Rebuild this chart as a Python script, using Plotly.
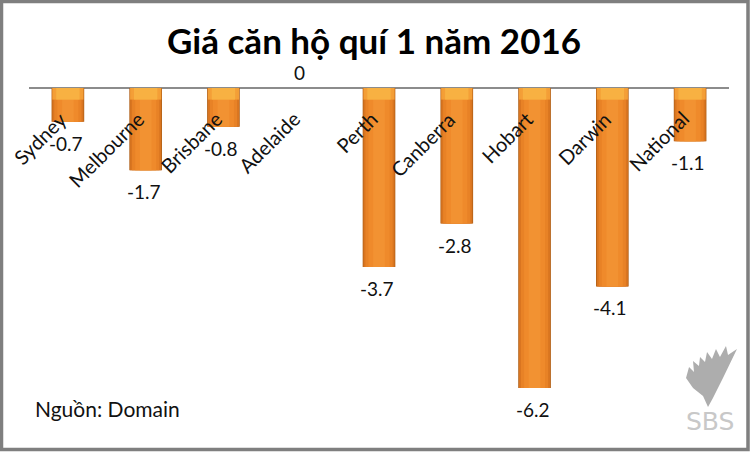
import plotly.graph_objects as go

# ---- data ----
categories = ["Sydney", "Melbourne", "Brisbane", "Adelaide", "Perth",
              "Canberra", "Hobart", "Darwin", "National"]
values = [-0.7, -1.7, -0.8, 0, -3.7, -2.8, -6.2, -4.1, -1.1]
title_text = "Giá căn hộ quí 1 năm 2016"
source_text = "Nguồn: Domain"

# ---- layout constants ----
W, H = 752, 452
ML, MR, MT, MB = 29, 23, 62, 32
PW, PH = W - ML - MR, H - MT - MB
Y_RANGE = [-6.86, 0.537]
FONT = "Lato, Carlito, Calibri, 'Open Sans', sans-serif"


def px_x(px):
    return (px - ML) / PW


def px_y(py):
    return (H - MB - py) / PH


fig = go.Figure()

# layered bars to imitate the cylinder gradient
layers = [
    (0.42, "#B06018"),
    (0.40, "#D97520"),
    (0.35, "#E88226"),
    (0.27, "#EF8A2B"),
    (0.15, "#F29232"),
]
for w, c in layers:
    fig.add_trace(go.Bar(
        x=categories, y=values, width=w, marker_color=c,
        marker_line_width=0, hoverinfo="skip", showlegend=False))

# lighter top cap
cap = [max(v, -0.24) if v < 0 else 0 for v in values]
for w, c in [(0.40, "rgba(244,160,56,0.95)"), (0.30, "rgba(248,178,66,0.95)")]:
    fig.add_trace(go.Bar(
        x=categories, y=cap, width=w, marker_color=c,
        marker_line_width=0, hoverinfo="skip", showlegend=False))

annotations = []
# value labels
for cat, v in zip(categories, values):
    if v < 0:
        annotations.append(dict(
            x=cat, y=v, xref="x", yref="y", text=f"{v:g}", showarrow=False,
            yanchor="top", yshift=-8, xshift=-2,
            font=dict(family=FONT, size=19, color="#111")))
    else:
        annotations.append(dict(
            x=cat, y=v, xref="x", yref="y", text=f"{v:g}", showarrow=False,
            yanchor="bottom", yshift=2, xshift=-2,
            font=dict(family=FONT, size=19, color="#111")))

# rotated category labels near the zero line
for cat in categories:
    annotations.append(dict(
        x=cat, y=0, xref="x", yref="y", text=cat, showarrow=False,
        textangle=-45, xanchor="right", yanchor="top", yshift=-16, xshift=6,
        font=dict(family=FONT, size=20, color="#111")))

# title
annotations.append(dict(
    x=px_x(374), y=px_y(40), xref="paper", yref="paper", text=f"<b>{title_text}</b>",
    showarrow=False, xanchor="center", yanchor="middle",
    font=dict(family=FONT, size=35, color="#000")))

# source
annotations.append(dict(
    x=px_x(33), y=px_y(408), xref="paper", yref="paper", text=source_text,
    showarrow=False, xanchor="left", yanchor="middle",
    font=dict(family=FONT, size=21, color="#111")))

# SBS logo text
annotations.append(dict(
    x=px_x(710), y=px_y(421), xref="paper", yref="paper", text="SBS",
    showarrow=False, xanchor="center", yanchor="middle",
    font=dict(family="'DejaVu Sans', sans-serif", size=25, color="#C8C8C8")))

# SBS logo glyph (rough)
pts = [(737, 349), (723, 378), (713, 398), (708, 407), (703, 396), (693, 388),
       (686, 378), (689, 367), (694, 372), (693, 361), (699, 366), (700, 357),
       (705, 362), (707, 352), (712, 359), (716, 349), (720, 357), (726, 346),
       (728, 355)]
path = "M " + " L ".join(f"{px_x(a):.4f},{px_y(b):.4f}" for a, b in pts) + " Z"

shapes = [
    dict(type="path", path=path, xref="paper", yref="paper",
         fillcolor="#ADADAD", line=dict(width=0)),
    # outer frame
    dict(type="rect", xref="paper", yref="paper",
         x0=px_x(1.5), x1=px_x(W - 4), y0=px_y(H - 2.5), y1=px_y(1.5),
         line=dict(color="#7F7F7F", width=3.5), fillcolor="rgba(0,0,0,0)"),
]

fig.update_layout(
    width=W, height=H,
    margin=dict(l=ML, r=MR, t=MT, b=MB),
    paper_bgcolor="white", plot_bgcolor="white",
    barmode="overlay",
    showlegend=False,
    xaxis=dict(showticklabels=False, showgrid=False, zeroline=False,
               showline=False, ticks="", range=[-0.5, len(categories) - 0.5]),
    yaxis=dict(range=Y_RANGE, showticklabels=False, showgrid=False,
               zeroline=True, zerolinecolor="#8C8C8C", zerolinewidth=1.5,
               showline=False, ticks=""),
    annotations=annotations,
    shapes=shapes,
)

fig.write_html("out.html", config={"displayModeBar": False},
               post_script="document.body.style.margin='0';document.body.style.padding='0';")
